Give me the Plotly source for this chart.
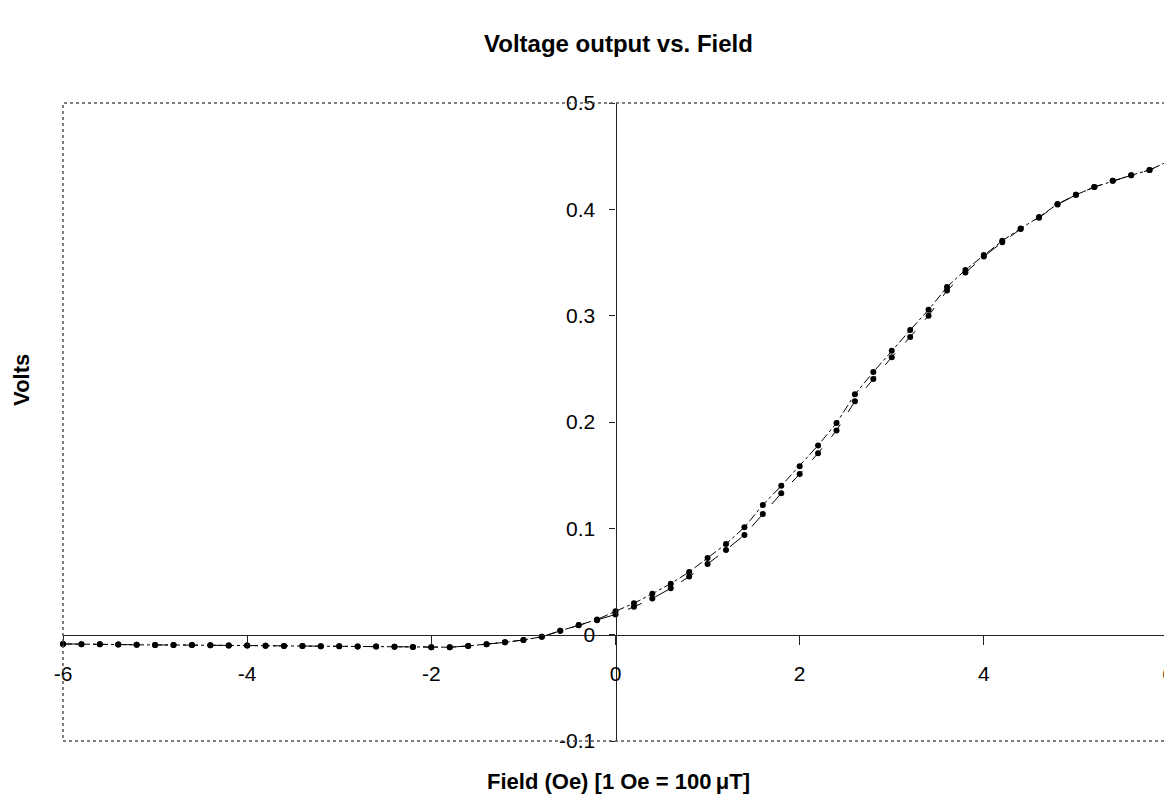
import plotly.graph_objects as go

# Field values (Oe)
field = [-6.0, -5.8, -5.6, -5.4, -5.2, -5.0, -4.8, -4.6, -4.4, -4.2,
         -4.0, -3.8, -3.6, -3.4, -3.2, -3.0, -2.8, -2.6, -2.4, -2.2,
         -2.0, -1.8, -1.6, -1.4, -1.2, -1.0, -0.8, -0.6, -0.4, -0.2,
         0.0, 0.2, 0.4, 0.6, 0.8, 1.0, 1.2, 1.4, 1.6, 1.8,
         2.0, 2.2, 2.4, 2.6, 2.8, 3.0, 3.2, 3.4, 3.6, 3.8,
         4.0, 4.2, 4.4, 4.6, 4.8, 5.0, 5.2, 5.4, 5.6, 5.8, 6.0]

# Upper sweep (Volts)
volts_up = [-0.0087, -0.0090, -0.0091, -0.0092, -0.0096, -0.0097, -0.0097, -0.0098, -0.0100, -0.0102,
            -0.0103, -0.0104, -0.0106, -0.0107, -0.0109, -0.0110, -0.0111, -0.0112, -0.0113, -0.0115,
            -0.0118, -0.0118, -0.0106, -0.0090, -0.0072, -0.0050, -0.0020, 0.0036, 0.0090, 0.0142,
            0.0220, 0.0295, 0.0385, 0.0480, 0.0590, 0.0720, 0.0853, 0.1010, 0.1220, 0.1400,
            0.1585, 0.1780, 0.1990, 0.2260, 0.2470, 0.2670, 0.2865, 0.3055, 0.3270, 0.3430,
            0.3570, 0.3704, 0.3820, 0.3927, 0.4050, 0.4136, 0.4210, 0.4268, 0.4320, 0.4370, 0.4450]

# Lower sweep (Volts)
volts_down = [-0.0087, -0.0090, -0.0091, -0.0092, -0.0096, -0.0097, -0.0097, -0.0098, -0.0100, -0.0102,
              -0.0103, -0.0104, -0.0106, -0.0107, -0.0109, -0.0110, -0.0111, -0.0112, -0.0113, -0.0115,
              -0.0118, -0.0118, -0.0106, -0.0090, -0.0072, -0.0050, -0.0020, 0.0036, 0.0088, 0.0135,
              0.0190, 0.0262, 0.0340, 0.0436, 0.0546, 0.0665, 0.0797, 0.0938, 0.1135, 0.1330,
              0.1510, 0.1707, 0.1920, 0.2195, 0.2405, 0.2610, 0.2800, 0.3000, 0.3236, 0.3405,
              0.3556, 0.3690, 0.3815, 0.3922, 0.4045, 0.4136, 0.4210, 0.4268, 0.4320, 0.4370, 0.4450]

x_ticks = [-6, -4, -2, 0, 2, 4, 6]
x_ticktext = ["-6", "-4", "-2", "0", "2", "4", "6"]
y_ticks = [-0.1, 0.0, 0.1, 0.2, 0.3, 0.4, 0.5]
y_ticktext = ["-0.1", "0", "0.1", "0.2", "0.3", "0.4", "0.5"]

FONT = "Liberation Sans, Arial, sans-serif"

fig = go.Figure()
fig.add_trace(go.Scatter(x=field, y=volts_down, mode="lines+markers",
                         line=dict(color="black", width=1, dash="longdash"),
                         marker=dict(symbol="circle", size=6, color="black"),
                         cliponaxis=False, showlegend=False))
fig.add_trace(go.Scatter(x=field, y=volts_up, mode="lines+markers", xaxis="x2",
                         line=dict(color="black", width=1, dash="dashdot"),
                         marker=dict(symbol="circle", size=6, color="black"),
                         cliponaxis=False, showlegend=False))

fig.update_layout(
    width=1172, height=801,
    margin=dict(l=55, r=6, t=95, b=68),
    paper_bgcolor="white", plot_bgcolor="white",
    font=dict(family=FONT, size=21, color="black"),
    # axis line and short tick marks
    xaxis=dict(range=[-6, 6], anchor="free", position=1/6,
               tickvals=x_ticks, showticklabels=False,
               showline=True, linecolor="#222", linewidth=1.2,
               ticks="outside", ticklen=9, tickcolor="#222",
               showgrid=False, zeroline=False),
    # companion axis carrying the tick labels
    xaxis2=dict(range=[-6, 6], anchor="free", position=1/6, overlaying="x",
                side="bottom",
                tickvals=x_ticks, ticktext=x_ticktext,
                showline=False, ticks="outside", ticklen=20,
                tickcolor="rgba(0,0,0,0)", ticklabeloverflow="allow",
                showgrid=False, zeroline=False,
                tickfont=dict(family=FONT, size=21)),
    yaxis=dict(range=[-0.1, 0.5], anchor="free", position=0.5,
               tickvals=y_ticks, ticktext=y_ticktext,
               showline=True, linecolor="#222", linewidth=1.2,
               ticks="outside", ticklen=6, tickcolor="#222",
               ticklabelstandoff=10,
               showgrid=False, zeroline=False,
               tickfont=dict(family=FONT, size=21)),
    shapes=[dict(type="rect", xref="paper", yref="paper", x0=0, y0=0, x1=1, y1=1,
                 line=dict(color="#555", width=1.5, dash="dot"))],
    annotations=[
        dict(text="<b>Voltage output vs. Field</b>", xref="paper", yref="paper",
             x=0.503, y=1, yshift=60, xanchor="center", yanchor="middle",
             showarrow=False, font=dict(family=FONT, size=24)),
        dict(text="<b>Field (Oe) [1 Oe = 100\u2009\u03bcT]</b>", xref="paper", yref="paper",
             x=0.503, y=0, yshift=-40, xanchor="center", yanchor="middle",
             showarrow=False, font=dict(family=FONT, size=22)),
        dict(text="<b>Volts</b>", xref="paper", yref="paper",
             x=0, y=0.566, xshift=-41, xanchor="center", yanchor="middle",
             textangle=-90, showarrow=False, font=dict(family=FONT, size=22)),
    ],
)

fig.write_html("out.html")
